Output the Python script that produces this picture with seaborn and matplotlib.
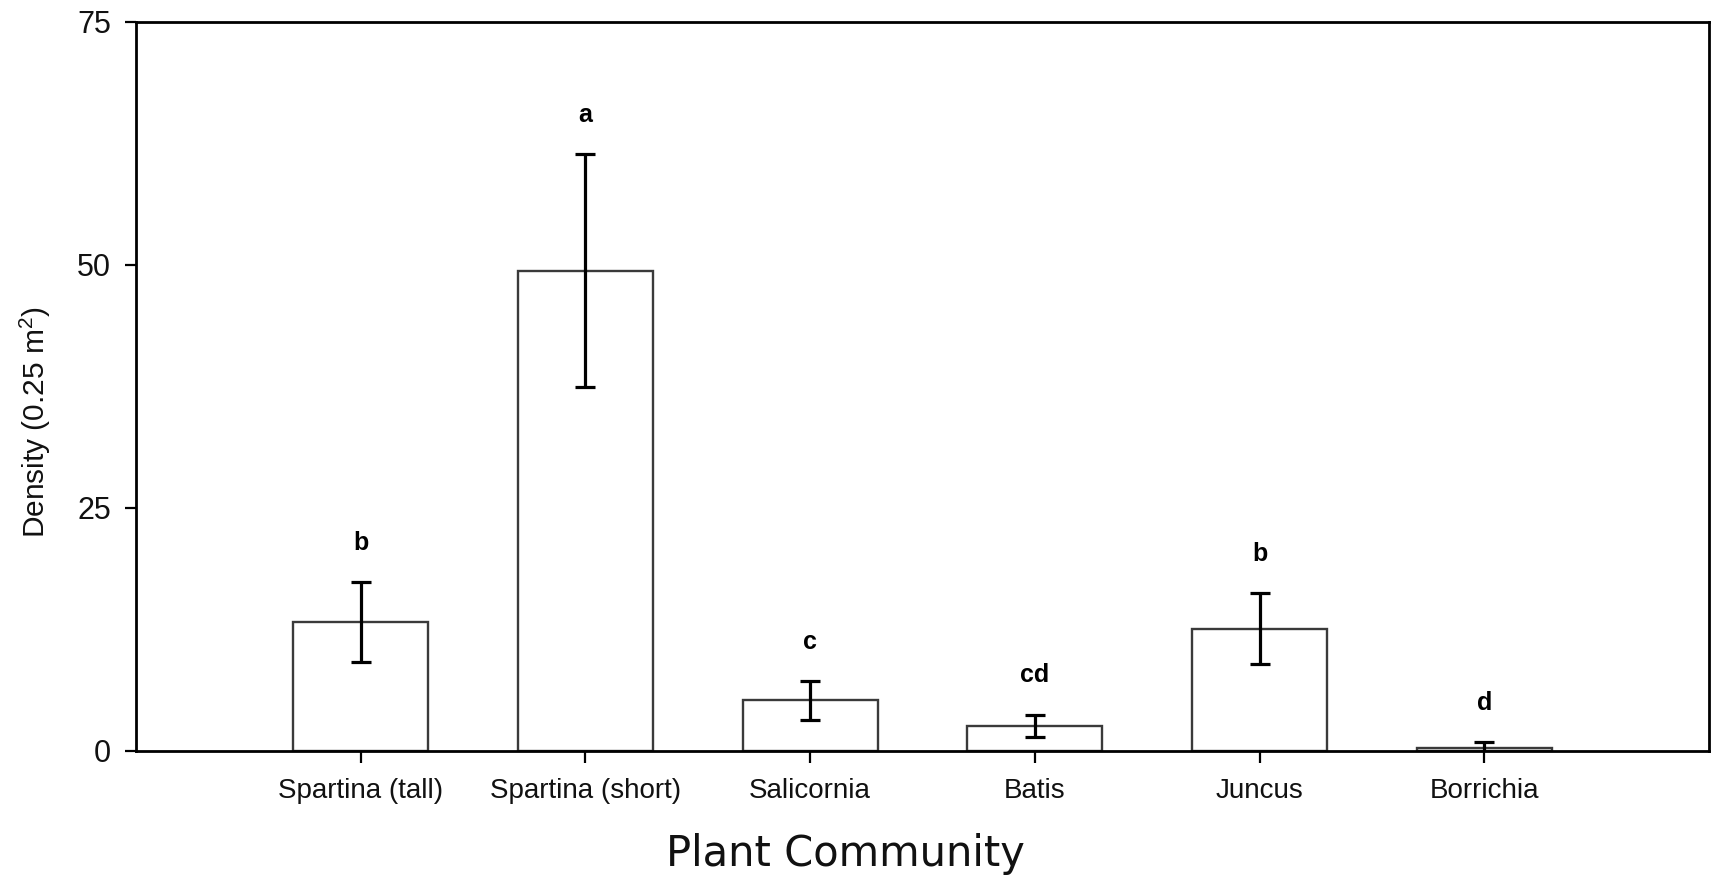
import matplotlib
matplotlib.use("Agg")
import matplotlib.pyplot as plt
import seaborn as sns
import pandas as pd

# Plant community density (mean ± SE per 0.25 m² quadrat)
communities = ["Spartina (tall)", "Spartina (short)", "Salicornia", "Batis", "Juncus", "Borrichia"]
density_mean = [13.3, 49.4, 5.2, 2.6, 12.6, 0.35]
density_se = [4.1, 12.0, 2.0, 1.15, 3.65, 0.55]
group_letters = ["b", "a", "c", "cd", "b", "d"]
y_ticks = [0, 25, 50, 75]

sns.set_theme(style="white")
plt.rcParams["font.family"] = ["Liberation Sans", "DejaVu Sans"]
plt.rcParams["mathtext.fontset"] = "custom"
plt.rcParams["mathtext.rm"] = "Liberation Sans"
plt.rcParams["mathtext.it"] = "Liberation Sans:italic"

df = pd.DataFrame({"community": communities, "density": density_mean})

fig = plt.figure(figsize=(17.17, 8.76), dpi=100)
ax = fig.add_axes([0.0792, 0.1427, 0.9161, 0.8322])

sns.barplot(data=df, x="community", y="density", color="white",
            edgecolor="#3a3a3a", linewidth=1.7, width=0.6,
            errorbar=None, saturation=1, ax=ax)

xpos = list(range(len(communities)))
ax.errorbar(xpos, density_mean, yerr=density_se, fmt="none",
            ecolor="black", elinewidth=2.3, capsize=7.2, capthick=2.3, zorder=5)

for x, m, s, lab in zip(xpos, density_mean, density_se, group_letters):
    ax.text(x, m + s + 3.3, lab, ha="center", va="baseline",
            fontsize=18, fontweight="bold", color="black")

ax.set_xlim(-1, 6)
ax.set_ylim(0, 75)
ax.set_yticks(y_ticks)
ax.set_yticklabels([str(t) for t in y_ticks])

for side in ["left", "right", "top", "bottom"]:
    ax.spines[side].set_visible(True)
    ax.spines[side].set_color("black")
    ax.spines[side].set_linewidth(2.0)

ax.tick_params(axis="y", direction="out", length=8, width=1.6, pad=10,
               labelsize=22, left=True, color="black", labelcolor="#111111")
ax.tick_params(axis="x", direction="out", length=8.6, width=1.6, pad=11,
               labelsize=20, bottom=True, color="black", labelcolor="#111111")

ax.set_xlabel("Plant Community", fontsize=30, color="#111111",
              family=["DejaVu Sans"])
ax.set_ylabel("Density (0.25 m$^2$)", fontsize=21.5, color="#111111")
ax.xaxis.label.set_va("center")
ax.xaxis.set_label_coords(0.451, -0.141)
ax.yaxis.label.set_va("center")
ax.yaxis.set_label_coords(-0.0642, 0.451)

fig.savefig("out.png", dpi=100, facecolor="white")
